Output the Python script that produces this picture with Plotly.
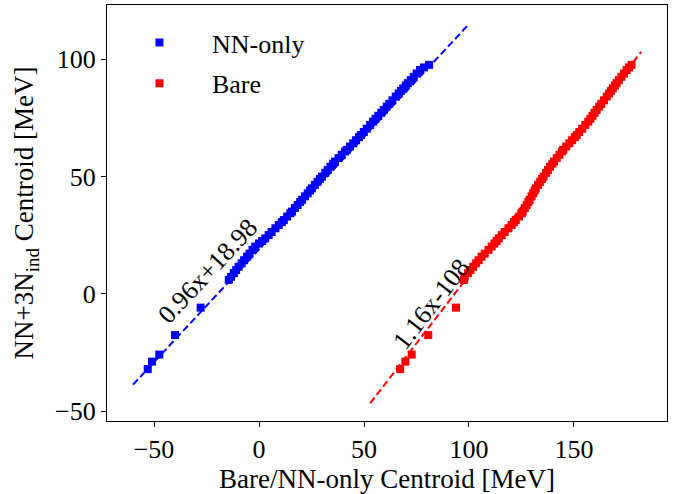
import plotly.graph_objects as go

# NN+3N_ind centroids [MeV], shared by both comparisons
centroid_3n = [
    -32.0, -28.8, -25.8, -17.5, -5.8,
    6.0, 7.3, 8.9, 10.2, 11.6, 13.1, 14.4, 15.9, 17.2, 18.8,
    20.2, 21.5, 22.6, 23.7, 25.1, 26.4, 28.0, 29.4, 30.6, 31.5,
    33.0, 34.4, 35.1, 36.6, 37.9, 39.2, 40.1, 41.6, 42.9, 44.1,
    45.0, 46.5, 47.8, 49.0, 50.0, 51.6, 52.8, 54.2, 55.5, 56.4,
    57.9, 59.3, 60.7, 61.4, 62.8, 64.2, 65.5, 66.8, 67.7, 69.0,
    70.4, 72.0, 73.4, 74.6, 75.9, 77.2, 78.4, 79.8, 81.0, 82.5,
    84.1, 85.4, 86.5, 87.6, 88.8, 89.8, 91.1, 92.5, 93.9, 95.4,
    96.5, 97.6,
]

# NN-only centroids [MeV]
centroid_nn = [
    -53.0, -51.0, -47.5, -40.0, -27.8,
    -14.4, -13.3, -12.0, -10.9, -9.7, -8.3, -7.1, -5.7, -4.5, -3.1,
    -1.8, 0.0, 1.5, 3.0, 4.6, 6.0, 7.8, 9.4, 10.8, 11.8,
    13.4, 14.9, 15.7, 17.1, 18.4, 19.6, 20.5, 21.9, 23.2, 24.3,
    25.2, 26.6, 27.9, 29.0, 30.0, 31.5, 32.7, 34.0, 35.3, 36.2,
    37.9, 39.4, 41.0, 41.8, 43.3, 44.9, 46.2, 47.6, 48.5, 49.9,
    51.3, 52.9, 54.3, 55.5, 56.8, 58.2, 59.4, 60.8, 62.0, 63.5,
    65.1, 66.5, 67.6, 68.7, 69.9, 70.9, 72.3, 73.7, 75.1, 76.7,
    78.5, 81.0,
]

# Bare centroids [MeV]
centroid_bare = [
    67.2, 69.7, 72.7, 80.6, 93.8,
    97.6, 98.0, 99.5, 100.7, 102.0, 103.4, 104.6, 106.0, 107.5, 109.3,
    110.8, 112.1, 113.2, 114.2, 115.6, 117.0, 118.8, 120.3, 121.4, 122.3,
    123.8, 125.1, 125.6, 126.6, 127.5, 128.3, 128.9, 129.8, 130.6, 131.3,
    131.8, 132.9, 133.9, 134.8, 135.5, 136.7, 137.6, 138.6, 139.7, 140.5,
    141.8, 143.1, 144.3, 144.9, 146.3, 147.8, 149.1, 150.4, 151.3, 152.5,
    153.9, 155.4, 156.8, 157.8, 158.8, 159.8, 160.8, 162.0, 163.0, 164.3,
    165.6, 166.7, 167.6, 168.5, 169.5, 170.3, 171.4, 172.6, 173.8, 175.1,
    176.2, 177.4,
]

# Linear fits (slope, intercept) and the x-span over which each is drawn
fit_nn = (0.96, 18.98)
fit_bare = (1.16, -108.0)
span_nn = [-60.0, 100.0]
span_bare = [53.0, 182.0]

BLUE = "#0000ff"
RED = "#ff0000"
FONT = "Liberation Serif"
SIZE = 26


def fit_line(fit, span):
    m, b = fit
    return span, [m * x + b for x in span]


fig = go.Figure()

# dashed fit lines underneath the points
for fit, span, color in [(fit_nn, span_nn, BLUE), (fit_bare, span_bare, RED)]:
    xs, ys = fit_line(fit, span)
    fig.add_trace(go.Scatter(
        x=xs, y=ys, mode="lines", showlegend=False, hoverinfo="skip",
        line=dict(color=color, width=2, dash="7px,3.5px"),
    ))

fig.add_trace(go.Scatter(
    x=centroid_nn, y=centroid_3n, mode="markers", name="\u2003\u2005NN-only",
    legendgroup="nn",
    marker=dict(symbol="square", size=8, color=BLUE, line=dict(width=0)),
))
fig.add_trace(go.Scatter(
    x=centroid_bare, y=centroid_3n, mode="markers", name="\u2003\u2005Bare",
    legendgroup="bare",
    marker=dict(symbol="square", size=8, color=RED, line=dict(width=0)),
))

fig.add_annotation(
    x=-24.1, y=9.8, xref="x", yref="y",
    text=f"{fit_nn[0]:.2f}x+{fit_nn[1]:.2f}",
    textangle=-47, showarrow=False,
    font=dict(family=FONT, size=SIZE, color="black"),
)
fig.add_annotation(
    x=81.8, y=-4.3, xref="x", yref="y",
    text=f"{fit_bare[0]:.2f}x{fit_bare[1]:.0f}",
    textangle=-52, showarrow=False,
    font=dict(family=FONT, size=SIZE, color="black"),
)

axis_common = dict(
    showgrid=False, zeroline=False,
    showline=True, linecolor="black", linewidth=1.3, mirror=True,
    ticks="outside", ticklen=5, tickwidth=1.2, tickcolor="black",
    tickfont=dict(family=FONT, size=SIZE, color="black"),
)

fig.update_layout(
    width=685, height=494,
    margin=dict(l=107, r=18, t=5, b=73, autoexpand=False),
    paper_bgcolor="white", plot_bgcolor="white",
    font=dict(family=FONT, size=SIZE, color="black"),
    xaxis=dict(
        range=[-72.4, 194.3], tickvals=[-50, 0, 50, 100, 150],
        title=dict(text="Bare/NN-only Centroid [MeV]", standoff=0,
                   font=dict(family=FONT, size=27, color="black")),
        **axis_common,
    ),
    yaxis=dict(
        range=[-54.1, 123.1], tickvals=[-50, 0, 50, 100],
        title=dict(text="NN+3N<sub>ind</sub> Centroid [MeV]", standoff=13,
                   font=dict(family=FONT, size=27, color="black")),
        **axis_common,
    ),
    legend=dict(
        x=0.058, y=0.966, xanchor="left", yanchor="top",
        bgcolor="rgba(0,0,0,0)", borderwidth=0,
        font=dict(family=FONT, size=SIZE, color="black"),
        traceorder="grouped", tracegroupgap=4,
    ),
)

fig.write_html("out.html")
